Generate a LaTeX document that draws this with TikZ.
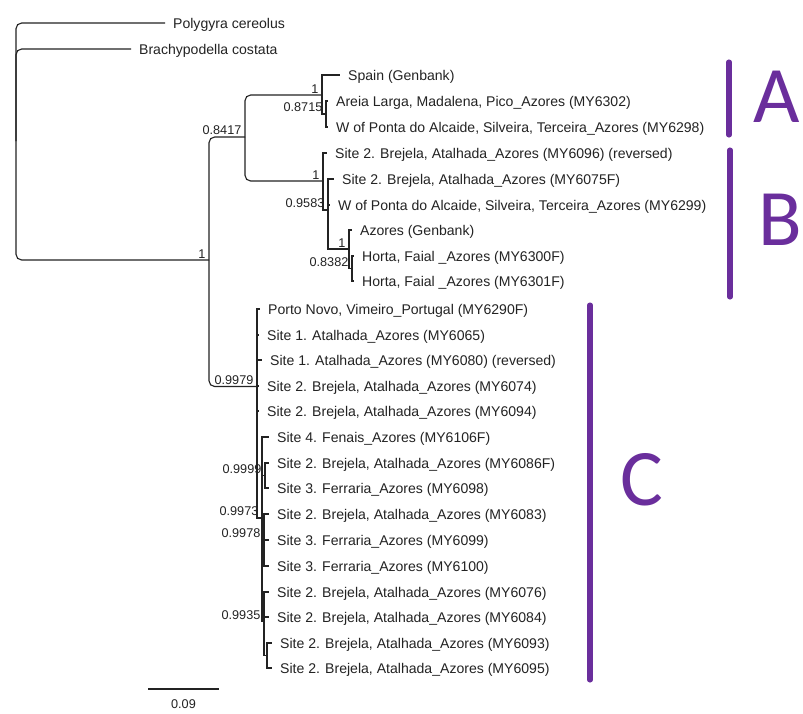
\documentclass[tikz,border=0pt]{standalone}
\usepackage{fontspec}
\setmainfont{Liberation Sans}
\newfontfamily\cladefont{Carlito}
\usepackage{tikz}
\definecolor{cladepurple}{RGB}{106,46,156}
\definecolor{treegray}{RGB}{35,35,35}
\tikzset{
  tip/.style={anchor=west,inner xsep=5.6pt,inner ysep=0pt,text height=7.2pt,text depth=0pt,font=\fontsize{10}{12}\selectfont,text=treegray},
  post/.style={anchor=south east,inner xsep=2.4pt,inner ysep=1.2pt,font=\fontsize{9}{10}\selectfont,text=treegray},
  branch/.style={draw=treegray,line width=0.8pt},
  soft/.style={branch,rounded corners=4pt},
  cladebar/.style={draw=cladepurple,line width=3.6pt,line cap=round},
  cladeletter/.style={inner sep=0pt,font=\cladefont\fontsize{57}{60}\selectfont,text=cladepurple}
}
\begin{document}
\begin{tikzpicture}[x=0.025cm,y=-0.025cm]
      \fill[white] (0,0) rectangle (803,713);
      \useasboundingbox (0,0) rectangle (803,713);
      \coordinate (root) at (16,141);
      \coordinate (n1) at (209,260);
      \coordinate (n2) at (245,137);
      \coordinate (na) at (322,95);
      \coordinate (na2) at (326,114);
      \coordinate (nb) at (323,181);
      \coordinate (nb2) at (328,210);
      \coordinate (nb3) at (349,249);
      \coordinate (nb4) at (352,268.5);
      \coordinate (cp) at (257,386.5);
      \coordinate (cq) at (262,518);
      \coordinate (r1) at (265,475.5);
      \coordinate (r2) at (264,540);
      \coordinate (r3) at (264,621.5);
      \coordinate (r4) at (267,655.5);
      \node[tip] at (165,23) (pcer) {Polygyra cereolus};
      \node[tip] at (131,49) (bcos) {Brachypodella costata};
      \node[tip] at (340,75) (spain) {Spain (Genbank)};
      \node[tip] at (328,101) (areia) {Areia Larga, Madalena, Pico\_Azores (MY6302)};
      \node[tip] at (328,127) (wpa) {W of Ponta do Alcaide, Silveira, Terceira\_Azores (MY6298)};
      \node[tip] at (327,153) (brjr) {Site 2. Brejela, Atalhada\_Azores (MY6096) (reversed)};
      \node[tip] at (334,179) (brjf) {Site 2. Brejela, Atalhada\_Azores (MY6075F)};
      \node[tip] at (330,205) (wpb) {W of Ponta do Alcaide, Silveira, Terceira\_Azores (MY6299)};
      \node[tip] at (352,230) (azg) {Azores (Genbank)};
      \node[tip] at (354,256) (hrta) {Horta, Faial \_Azores (MY6300F)};
      \node[tip] at (354,281) (hrtb) {Horta, Faial \_Azores (MY6301F)};
      \node[tip] at (260,309) (porto) {Porto Novo, Vimeiro\_Portugal (MY6290F)};
      \node[tip] at (259,335) (sa) {Site 1. Atalhada\_Azores (MY6065)};
      \node[tip] at (262,360) (sb) {Site 1. Atalhada\_Azores (MY6080) (reversed)};
      \node[tip] at (259,386) (c74) {Site 2. Brejela, Atalhada\_Azores (MY6074)};
      \node[tip] at (259,411) (c94) {Site 2. Brejela, Atalhada\_Azores (MY6094)};
      \node[tip] at (269,437) (fen) {Site 4. Fenais\_Azores (MY6106F)};
      \node[tip] at (269,463) (c86) {Site 2. Brejela, Atalhada\_Azores (MY6086F)};
      \node[tip] at (269,488) (f98) {Site 3. Ferraria\_Azores (MY6098)};
      \node[tip] at (269,514) (c83) {Site 2. Brejela, Atalhada\_Azores (MY6083)};
      \node[tip] at (269,540) (f99) {Site 3. Ferraria\_Azores (MY6099)};
      \node[tip] at (269,566) (f100) {Site 3. Ferraria\_Azores (MY6100)};
      \node[tip] at (269,592) (c76) {Site 2. Brejela, Atalhada\_Azores (MY6076)};
      \node[tip] at (269,617) (c84) {Site 2. Brejela, Atalhada\_Azores (MY6084)};
      \node[tip] at (272,643) (c93) {Site 2. Brejela, Atalhada\_Azores (MY6093)};
      \node[tip] at (272,668) (c95) {Site 2. Brejela, Atalhada\_Azores (MY6095)};
      \draw[soft] (root) |- (pcer.west);
      \draw[soft] (root) |- (bcos.west);
      \draw[soft] (root) |- (n1);
      \draw[soft] (n1) |- (n2);
      \draw[soft] (n1) |- (cp);
      \draw[soft] (n2) |- (na);
      \draw[soft] (n2) |- (nb);
      \draw[branch] (na) |- (spain.west);
      \draw[branch] (na) |- (na2);
      \foreach \t in {areia,wpa} \draw[branch] (na2) |- (\t.west);
      \draw[branch] (nb) |- (brjr.west);
      \draw[branch] (nb) |- (nb2);
      \foreach \t in {brjf,wpb} \draw[branch] (nb2) |- (\t.west);
      \draw[branch] (nb2) |- (nb3);
      \draw[branch] (nb3) |- (azg.west);
      \draw[branch] (nb3) |- (nb4);
      \foreach \t in {hrta,hrtb} \draw[branch] (nb4) |- (\t.west);
      \foreach \t in {porto,sa,sb,c74,c94} \draw[branch] (cp) |- (\t.west);
      \draw[branch] (cp) |- (cq);
      \draw[branch] (cq) |- (fen.west);
      \foreach \t in {r1,r2,r3} \draw[branch] (cq) |- (\t);
      \foreach \t in {c86,f98} \draw[branch] (r1) |- (\t.west);
      \foreach \t in {c83,f99,f100} \draw[branch] (r2) |- (\t.west);
      \foreach \t in {c76,c84} \draw[branch] (r3) |- (\t.west);
      \draw[branch] (r3) |- (r4);
      \foreach \t in {c93,c95} \draw[branch] (r4) |- (\t.west);
      \node[post] at (n1) (pn1) {1};
      \node[post] at (n2) (pn2) {0.8417};
      \node[post] at (na) (pna) {1};
      \node[post] at (na2) (pna2) {0.8715};
      \node[post] at (nb) (pnb) {1};
      \node[post] at (nb2) (pnb2) {0.9583};
      \node[post] at (nb3) (pnb3) {1};
      \node[post] at (nb4) (pnb4) {0.8382};
      \node[post] at (cp) (pcp) {0.9979};
      \node[post] at (r1) (pr1) {0.9999};
      \node[post] at (cq) (pcq) {0.9973};
      \node[post] at (r2) (pr2) {0.9978};
      \node[post] at (r3) (pr3) {0.9935};
      \coordinate (sbl) at (148,689);
      \coordinate (sbr) at (219,689);
      \draw[branch] (sbl) -- (sbr);
      \node[post,anchor=center] at (183.5,704) (sblab) {0.09};
      \coordinate (atop) at (729,62);
      \coordinate (abot) at (729,135);
      \coordinate (btop) at (730,150);
      \coordinate (bbot) at (730,297);
      \coordinate (ctop) at (590,305);
      \coordinate (cbot) at (590,680);
      \draw[cladebar] (atop) -- (abot);
      \draw[cladebar] (btop) -- (bbot);
      \draw[cladebar] (ctop) -- (cbot);
      \node[cladeletter] at (777,97) (la) {A};
      \node[cladeletter] at (780,220) (lb) {B};
      \node[cladeletter] at (642,480) (lc) {C};
\end{tikzpicture}
\end{document}
